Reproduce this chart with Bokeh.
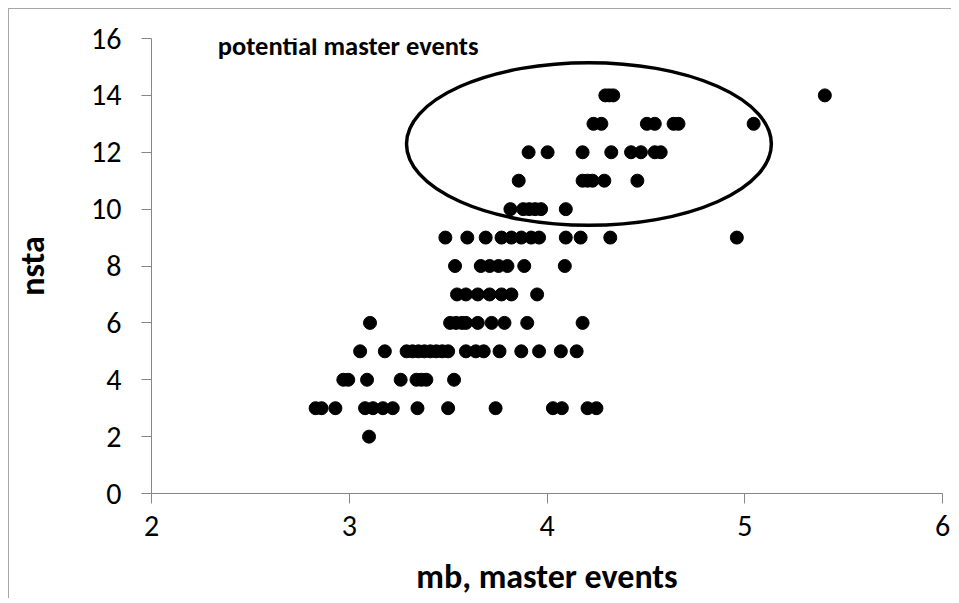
from bokeh.plotting import figure
from bokeh.models import Range1d, FixedTicker, Label
from bokeh.embed import file_html
from bokeh.resources import INLINE

# mb values (x) per nsta row (y)
mb_n2 = [3.10]
mb_n3 = [2.83, 2.86, 2.93, 3.08, 3.12, 3.17, 3.22, 3.345, 3.50, 3.74, 4.03, 4.075, 4.205, 4.25]
mb_n4 = [2.97, 2.995, 3.09, 3.26, 3.34, 3.365, 3.39, 3.53]
mb_n5 = [3.055, 3.18, 3.29, 3.32, 3.35, 3.38, 3.41, 3.44, 3.47, 3.50, 3.59, 3.64, 3.68, 3.76, 3.87, 3.96, 4.07, 4.15]
mb_n6 = [3.105, 3.51, 3.54, 3.57, 3.59, 3.65, 3.72, 3.785, 3.90, 4.18]
mb_n7 = [3.545, 3.59, 3.65, 3.71, 3.77, 3.82, 3.95]
mb_n8 = [3.535, 3.665, 3.71, 3.755, 3.80, 3.885, 4.09]
mb_n9 = [3.486, 3.597, 3.69, 3.77, 3.82, 3.87, 3.92, 3.96, 4.095, 4.17, 4.32, 4.96]
mb_n10 = [3.815, 3.88, 3.91, 3.94, 3.97, 4.095]
mb_n11 = [3.857, 4.18, 4.205, 4.23, 4.29, 4.457]
mb_n12 = [3.907, 4.003, 4.18, 4.325, 4.425, 4.475, 4.545, 4.575]
mb_n13 = [4.235, 4.275, 4.505, 4.545, 4.64, 4.665, 5.045]
mb_n14 = [4.295, 4.315, 4.335, 5.405]

x_ticks = [2, 3, 4, 5, 6]
y_ticks = [0, 2, 4, 6, 8, 10, 12, 14, 16]

# highlighted region (ellipse) in data units
ell_x, ell_y, ell_w, ell_h = 4.212, 12.29, 1.845, 5.72
note_text = "potential master events"
note_x, note_y = 2.335, 15.72

rows = [(2, mb_n2), (3, mb_n3), (4, mb_n4), (5, mb_n5), (6, mb_n6), (7, mb_n7),
        (8, mb_n8), (9, mb_n9), (10, mb_n10), (11, mb_n11), (12, mb_n12),
        (13, mb_n13), (14, mb_n14)]
xs, ys = [], []
for n, vals in rows:
    xs.extend(vals)
    ys.extend([n] * len(vals))

FONT = "Carlito, Lato, sans-serif"
AXIS_COLOR = "#868686"

p = figure(width=943, height=590, output_backend="svg", toolbar_location=None,
           x_range=Range1d(2, 6), y_range=Range1d(0, 16),
           min_border_left=139, min_border_right=10, min_border_top=29, min_border_bottom=100)
p.styles = {"border-top": "1px solid #a6a6a6", "border-left": "1px solid #a6a6a6",
            "box-sizing": "border-box", "margin-left": "8px", "margin-top": "8px"}
p.outline_line_color = None
p.grid.grid_line_color = None
p.background_fill_color = "white"
p.border_fill_color = "white"

p.scatter(xs, ys, size=13, color="black")
p.ellipse(x=[ell_x], y=[ell_y], width=[ell_w], height=[ell_h],
          fill_color=None, line_color="black", line_width=3.5)

p.add_layout(Label(x=note_x, y=note_y, text=note_text, text_font=FONT,
                   text_font_size="26.5px", text_font_style="bold",
                   text_baseline="middle", text_color="black"))

for ax in (p.xaxis[0], p.yaxis[0]):
    ax.axis_line_color = AXIS_COLOR
    ax.major_tick_line_color = AXIS_COLOR
    ax.major_tick_out = 10
    ax.major_tick_in = 0
    ax.minor_tick_line_color = None
    ax.major_label_text_font = FONT
    ax.major_label_text_font_size = "30px"
    ax.major_label_text_color = "black"
    ax.axis_label_text_font = FONT
    ax.axis_label_text_font_size = "34px"
    ax.axis_label_text_font_style = "bold"
    ax.axis_label_text_color = "black"

p.xaxis[0].ticker = FixedTicker(ticks=x_ticks)
p.yaxis[0].ticker = FixedTicker(ticks=y_ticks)
p.xaxis[0].axis_label = "mb, master events"
p.yaxis[0].axis_label = "nsta"
p.xaxis[0].major_label_standoff = 12
p.yaxis[0].major_label_standoff = 20
p.xaxis[0].axis_label_standoff = 17
p.yaxis[0].axis_label_standoff = 35

open("out.html", "w").write(file_html(p, INLINE))
